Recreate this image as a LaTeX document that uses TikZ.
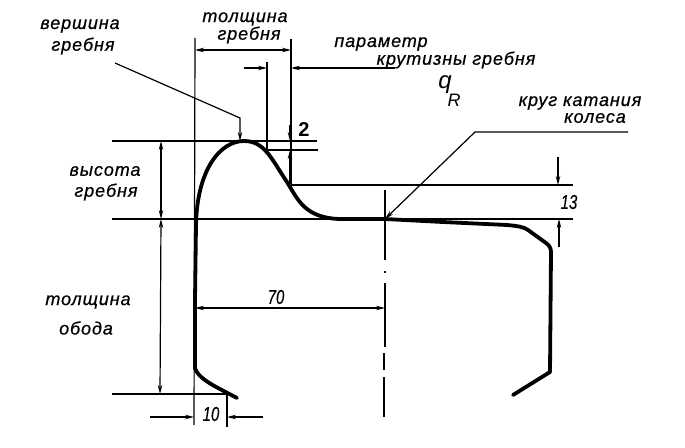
\documentclass[tikz,border=0pt]{standalone}
\usepackage{fontspec}
\setmainfont{Liberation Sans}
\usetikzlibrary{arrows.meta}
\tikzset{
 lab/.style={inner sep=0pt,font=\fontsize{18}{18}\selectfont\itshape\addfontfeature{LetterSpace=5,FakeBold=0.6}},
 num/.style={inner sep=0pt,xscale=0.75,font=\fontsize{20}{20}\selectfont\itshape\addfontfeature{FakeBold=0.4}},
 thinl/.style={line width=1.2pt},
 profile/.style={line width=3.8pt,line cap=round,line join=round},
 dim/.style={line width=1.2pt,-{Stealth[length=9pt,width=4.5pt]}},
 dimb/.style={line width=1.2pt,{Stealth[length=9pt,width=4.5pt]}-{Stealth[length=9pt,width=4.5pt]}}
}
\begin{document}
\begin{tikzpicture}[x=1pt,y=-1pt]
\useasboundingbox (0,0) rectangle (685,447);
% texts
\node[lab] (t1) at (80,26) {вершина};
\node[lab] (t2) at (83,46) {гребня};
\node[lab] (t3) at (245,19) {толщина};
\node[lab] (t4) at (249,35) {гребня};
\node[lab] (t5) at (381,44) {параметр};
\node[lab] (t6) at (456,60) {крутизны гребня};
\node[lab,font=\fontsize{24}{24}\selectfont\itshape] (t7) at (445,85) {q};
\node[lab,font=\fontsize{18}{18}\selectfont\itshape] (t8) at (454,100) {R};
\node[lab] (t9) at (580,103) {круг катания};
\node[lab] (t10) at (595,118) {колеса};
\node[lab] (t11) at (105,171) {высота};
\node[lab] (t12) at (106,192) {гребня};
\node[lab] (t13) at (88,302) {толщина};
\node[lab] (t14) at (86,328) {обода};
\node[inner sep=0pt,font=\fontsize{20}{20}\selectfont\bfseries] (n2) at (304,130) {2};
\node[num] (n13) at (569,202) {13};
\node[num] (n70) at (276,297) {70};
\node[num] (n10) at (211,414) {10};
% named points
\coordinate (vs) at (115,63);\coordinate (vk) at (240,118);\coordinate (vt) at (240,141);
\coordinate (ke) at (628,132);\coordinate (kk) at (475,132);\coordinate (kt) at (385,219);
\coordinate (pe) at (395,68);\coordinate (pt) at (291,68);
% extension lines
\draw[thinl] (195,38) -- (194,425);
\draw[thinl] (291,39) -- (291,184);
\draw[line width=1.6pt] (267,62) -- (267,150);
\draw[thinl] (112,141) -- (317,141);
\draw[thinl] (267,150) -- (318,150);
\draw[thinl] (291,185) -- (573,185);
\draw[thinl] (112,219) -- (573,219);
\draw[thinl] (112,394) -- (227,394);
\draw[thinl] (227,394) -- (227,427);
% centre line
\draw[thinl] (385,190) -- (385,260) (385,271) -- (385,273) (385,283) -- (385,347) (384,353) -- (384,370) (384,377) -- (384,417);
% dimensions
\draw[dimb] (195,50) -- (291,50);
\draw[dim] (244,68) -- (267,68);
\draw[dim] (pe) -- (pt);
\draw[dim] (290,125) -- (290,141);
\draw[dim] (290,184) -- (290,150);
\draw[dimb] (161,141) -- (161,219);
\draw[dimb] (161,219) -- (160,394);
\draw[dim] (150,417) -- (194,417);
\draw[dim] (263,417) -- (227,417);
\draw[dimb] (195,308) -- (385,308);
\draw[dim] (558,157) -- (558,185);
\draw[dim] (559,247) -- (559,219);
% leaders
\draw[dim] (vs) -- (vk) -- (vt);
\draw[dim] (ke) -- (kk) -- (kt);
% profile
\draw[profile] (237,398) -- (218,388) .. controls (205,381) and (197,375) .. (195,368)
 -- (195,300) -- (196,225)
 .. controls (197,170) and (220,141) .. (244,141)
 .. controls (265,141) and (272,160) .. (287,182)
 .. controls (298,200) and (305,218) .. (340,219)
 -- (385,219) -- (443,222) -- (507,225)
 .. controls (518,226) and (524,227) .. (528,230)
 -- (546,243) .. controls (549,245) and (551,248) .. (551,252)
 -- (550,372) -- (513,395);
\end{tikzpicture}
\end{document}
